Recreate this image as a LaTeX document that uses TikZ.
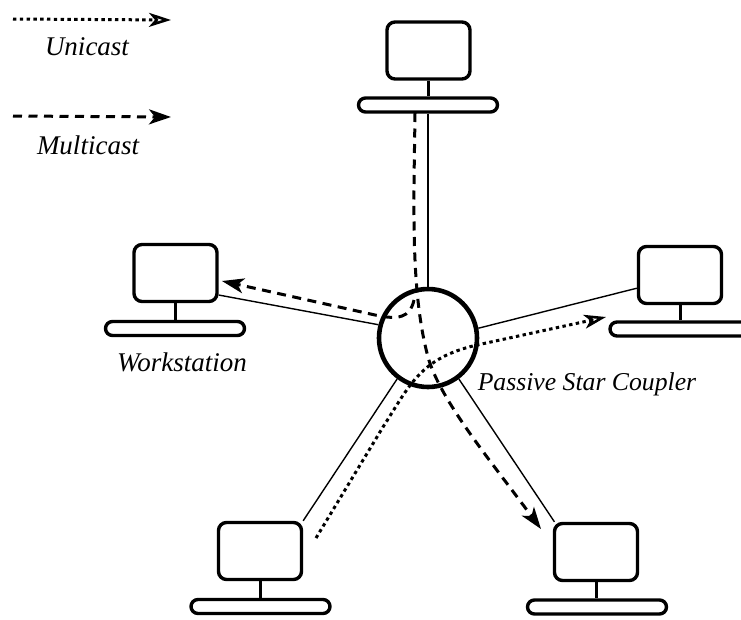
\documentclass[tikz,border=0pt]{standalone}
\usepackage{fontspec}
\setmainfont{Liberation Serif}
\usetikzlibrary{arrows.meta}
\tikzset{
  screen/.style={draw,line width=3.4pt,rounded corners=8pt,minimum width=83pt,minimum height=57pt,inner sep=0pt},
  basebar/.style={draw,line width=3.4pt,rounded corners=7pt,minimum width=139pt,minimum height=14pt,inner sep=0pt},
  stem/.style={line width=3pt},
  link/.style={line width=1.4pt},
  coupler/.style={draw,circle,line width=4.6pt,minimum size=98pt,inner sep=0pt},
  label/.style={inner sep=0pt,font=\fontsize{27}{30}\selectfont\itshape},
  longlabel/.style={label,font=\fontsize{25.7}{30}\selectfont\itshape},
  multi/.style={line width=3pt,dash pattern=on 9pt off 6.5pt,-{Stealth[length=22pt,width=15pt,inset=6pt]}},
  uni/.style={line width=3pt,dash pattern=on 3.4pt off 3.4pt,-{Stealth[length=22pt,width=14pt,inset=6pt,open,line width=2.6pt]}},
}
\begin{document}
\begin{tikzpicture}[x=1pt,y=-1pt]
\clip (0,0) rectangle (741,619);
\fill[white] (0,0) rectangle (741,619);
% workstations
\node[screen] (scrT) at (428.5,50.5) {};
\node[basebar] (baseT) at (428,105) {};
\node[screen] (scrL) at (175.5,273) {};
\node[basebar] (baseL) at (175,328.5) {};
\node[screen] (scrR) at (680,275) {};
\node[basebar,minimum width=160pt] (baseR) at (690,329) {};
\node[screen] (scrBL) at (260,551) {};
\node[basebar] (baseBL) at (260.5,606.5) {};
\node[screen] (scrBR) at (596,552) {};
\node[basebar] (baseBR) at (597,607) {};
\draw[stem] (scrT.south) -- (scrT.south |- baseT.north);
\draw[stem] (scrL.south) -- (scrL.south |- baseL.north);
\draw[stem] (scrR.south) -- (scrR.south |- baseR.north);
\draw[stem] (scrBL.south) -- (scrBL.south |- baseBL.north);
\draw[stem] (scrBR.south) -- (scrBR.south |- baseBR.north);
% coupler
\node[coupler] (star) at (428,338) {};
\draw[link] (baseT.south) -- (star.north);
\draw[link] (scrL.-27) -- (star.165);
\draw[link] (scrR.197) -- (star.11);
\draw[link] (scrBL.35) -- (star.233);
\draw[link] (scrBR.144.5) -- (star.307);
% traffic
\coordinate (mStart) at (415,113);
\coordinate (mEnd) at (541,529);
\coordinate (bEnd) at (222,281);
\coordinate (uStart) at (316,538);
\coordinate (uEnd) at (606,317);
\draw[multi] (mStart) .. controls (414,200) and (410,290) .. (428,357) .. controls (440,400) and (490,460) .. (mEnd);
\draw[multi] (414,300) .. controls (410,318) and (398,320) .. (375,315) -- (bEnd);
\draw[uni] (uStart) -- (383,427) .. controls (410,385) and (420,358) .. (477,345) -- (uEnd);
% legend
\coordinate (lu1) at (13,19);
\coordinate (lu2) at (171,20);
\coordinate (lm1) at (13,116);
\coordinate (lm2) at (171,117);
\draw[uni] (lu1) -- (lu2);
\draw[multi] (lm1) -- (lm2);
\node[label] (tU) at (87,47) {Unicast};
\node[label] (tM) at (88,145) {Multicast};
\node[label] (tW) at (182,362) {Workstation};
\node[longlabel] (tP) at (587,384) {Passive Star Coupler};
\end{tikzpicture}
\end{document}
